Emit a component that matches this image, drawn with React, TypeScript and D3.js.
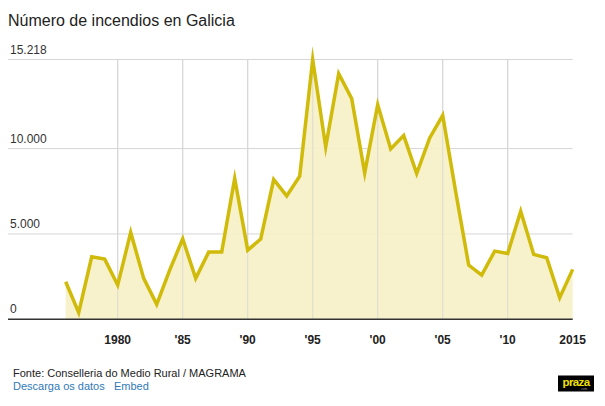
import React from "react";
import * as d3 from "d3";

// Forest fires per year in Galicia
const years = d3.range(1976, 2016);
const fires = [
  2199, 386, 3661, 3526, 2006, 5088, 2398, 877, 2883, 4714,
  2398, 3936, 3936, 8246, 4053, 4696, 8187, 7228, 8380, 15218,
  10094, 14386, 12924, 8573, 12573, 9977, 10760, 8538, 10620, 11948,
  7462, 3175, 2591, 3994, 3860, 6333, 3801, 3603, 1263, 2924,
];
const yTicks = [0, 5000, 10000, 15218];
const xTicks = [1980, 1985, 1990, 1995, 2000, 2005, 2010, 2015];

const W = 605;
const H = 406;
const FONT = "'Liberation Sans', Arial, Helvetica, sans-serif";
const LINE = "#d0ba0a";
const FILL = "#f6f0c6";

const fmtY = (v: number) => (v === 0 ? "0" : d3.format(",")(v).replace(/,/g, "."));
const fmtX = (y: number) => (y === 1980 || y === 2015 ? String(y) : "'" + String(y).slice(2));

export default function App() {
  const x = d3.scaleLinear().domain([1980, 2010]).range([117.7, 507.7]);
  const y = d3.scaleLinear().domain([0, 15218]).range([319.3, 59.5]);

  const data = years.map((yr, i) => ({ yr, v: fires[i] }));
  const line = d3.line<{ yr: number; v: number }>().x((d) => x(d.yr)).y((d) => y(d.v));
  const area = d3
    .area<{ yr: number; v: number }>()
    .x((d) => x(d.yr))
    .y0(y(0))
    .y1((d) => y(d.v));

  const left = 8;
  const right = x(2015);

  return (
    <div style={{ position: "absolute", left: 0, top: 0 }}>
      <svg width={W} height={H} style={{ display: "block", background: "#fff" }} fontFamily={FONT}>
        <text x={8} y={26} fontSize={16} fill="#222">
          Número de incendios en Galicia
        </text>

        {/* horizontal gridlines with labels above */}
        {yTicks.map((t) => (
          <g key={t}>
            {t !== 0 && (
              <line x1={left} x2={right} y1={y(t)} y2={y(t)} stroke="#d6d6d6" strokeWidth={1} />
            )}
            <text x={10} y={y(t) - 6} fontSize={12} fill="#333">
              {fmtY(t)}
            </text>
          </g>
        ))}

        {/* vertical gridlines */}
        {xTicks.slice(0, -1).map((t) => (
          <line key={t} x1={x(t)} x2={x(t)} y1={y(15218)} y2={y(0)} stroke="#d6d6d6" strokeWidth={1} />
        ))}

        <path d={area(data) ?? ""} fill={FILL} fillOpacity={0.9} />
        {xTicks.slice(0, -1).map((t) => (
          <line key={"g" + t} x1={x(t)} x2={x(t)} y1={y(15218)} y2={y(0)} stroke="#d6d6d6" strokeOpacity={0.7} strokeWidth={1} />
        ))}
        <path d={line(data) ?? ""} fill="none" stroke={LINE} strokeWidth={3.5} strokeLinejoin="miter" strokeMiterlimit={10} />

        <line x1={left} x2={right} y1={y(0)} y2={y(0)} stroke="#333" strokeWidth={1.5} />

        {xTicks.map((t) => (
          <text key={t} x={x(t)} y={344} textAnchor="middle" fontSize={12} fontWeight="bold" fill="#222">
            {fmtX(t)}
          </text>
        ))}

        <text x={13} y={377} fontSize={11} fill="#222">
          Fonte: Conselleria do Medio Rural / MAGRAMA
        </text>
        <text x={13} y={390} fontSize={11} fill="#2f7ab8">
          Descarga os datos
        </text>
        <text x={114} y={390} fontSize={11} fill="#2f7ab8">
          Embed
        </text>

        <g transform="translate(558,375.5)">
          <rect width={36} height={16} fill="#000" />
          <text x={18} y={10.5} textAnchor="middle" fontSize={11.5} fontWeight="bold" fill="#f0e000" letterSpacing={-0.6}>
            praza
          </text>
          <text x={26} y={14.5} textAnchor="middle" fontSize={3} fill="#999">
            .com
          </text>
        </g>
      </svg>
    </div>
  );
}
